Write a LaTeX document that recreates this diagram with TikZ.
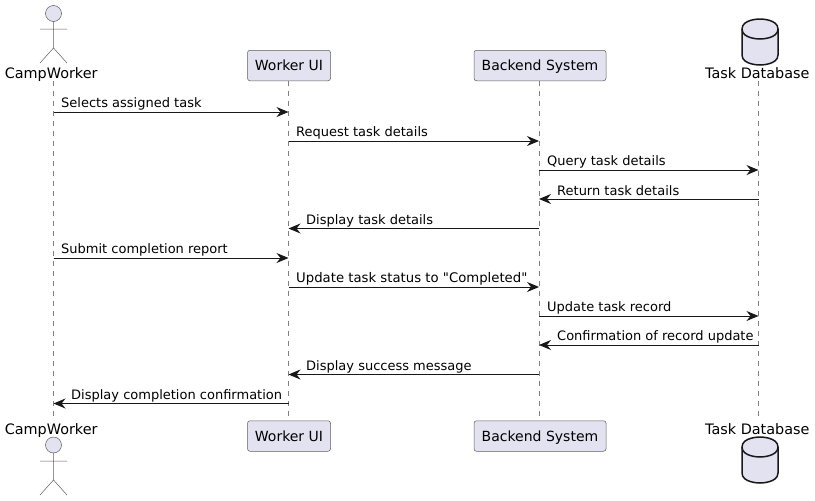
\documentclass[tikz,border=0pt]{standalone}
\usepackage{fontspec}
\newfontfamily\dv{DejaVu Sans}
\usetikzlibrary{arrows.meta}
\definecolor{pfill}{HTML}{E2E2F0}
\definecolor{pline}{HTML}{181818}
\tikzset{
  pbox/.style={draw=pline!70,fill=pfill,line width=0.5pt,rounded corners=2.5pt,minimum height=30.5pt,inner sep=0pt,font=\dv\fontsize{14}{16}\selectfont,text=black,text depth=0pt,anchor=center},
  plabel/.style={inner sep=0pt,font=\dv\fontsize{14.4}{16}\selectfont,text=black,anchor=base},
  mlabel/.style={inner sep=0pt,font=\dv\fontsize{13}{15}\selectfont,text=black,anchor=base west},
  life/.style={draw=pline!55,line width=0.5pt,dash pattern=on 5pt off 5pt},
  msg/.style={draw=pline,line width=1pt,-{Stealth[length=12pt,width=10pt,inset=4pt]}},
  actorline/.style={draw=pline!70,line width=0.5pt},
  actorhead/.style={draw=pline!70,fill=pfill,line width=0.5pt},
  dbshape/.style={draw=pline,line width=1.5pt},
}
\begin{document}
\begin{tikzpicture}[x=1pt,y=-1pt]
\useasboundingbox (0,0) rectangle (815,501);
% lifeline anchors
\coordinate (cwT) at (53.5,81);
\coordinate (cwB) at (53.5,420);
\coordinate (uiL) at (288.5,81);
\coordinate (uiM) at (288.5,420);
\coordinate (beL) at (539,81);
\coordinate (beM) at (539,420);
\coordinate (dbT) at (758.5,81);
\coordinate (dbB) at (758.5,420);
% participants
\node[pbox,minimum width=83pt] (uiT) at (289,65.5) {Worker UI};
\node[pbox,minimum width=83pt] (uiB) at (289,436) {Worker UI};
\node[pbox,minimum width=132pt] (beT) at (540,65.5) {Backend System};
\node[pbox,minimum width=132pt] (beB) at (540,436) {Backend System};
% lifelines
\draw[life] (cwT) -- (cwB);
\draw[life] (uiL) -- (uiM);
\draw[life] (beL) -- (beM);
\draw[life] (dbT) -- (dbB);
% actor top
\draw[actorhead] (53.5,13.5) circle (8);
\draw[actorline] (53.5,21.5) -- (53.5,48) (40,29) -- (67,29) (40,63) -- (53.5,48) -- (67,63);
\node[plabel] (cwlT) at (51.2,78) {CampWorker};
% actor bottom
\draw[actorhead] (53.5,445) circle (8);
\draw[actorline] (53.5,453) -- (53.5,480) (40,461) -- (67,461) (40,495) -- (53.5,480) -- (67,495);
\node[plabel] (cwlB) at (51.2,434) {CampWorker};
% database top
\draw[dbshape,fill=pfill] (742,29) .. controls (742,19) and (760,19) .. (760,19) .. controls (760,19) and (778,19) .. (778,29) -- (778,55) .. controls (778,65) and (760,65) .. (760,65) .. controls (760,65) and (742,65) .. (742,55) -- cycle;
\draw[dbshape] (742,29) .. controls (742,39) and (760,39) .. (760,39) .. controls (760,39) and (778,39) .. (778,29);
\node[plabel] (dblT) at (757.3,78) {Task Database};
% database bottom
\draw[dbshape,fill=pfill] (742,447) .. controls (742,437) and (760,437) .. (760,437) .. controls (760,437) and (778,437) .. (778,447) -- (778,473) .. controls (778,483) and (760,483) .. (760,483) .. controls (760,483) and (742,483) .. (742,473) -- cycle;
\draw[dbshape] (742,447) .. controls (742,457) and (760,457) .. (760,457) .. controls (760,457) and (778,457) .. (778,447);
\node[plabel] (dblB) at (757.3,434) {Task Database};
% rows
\foreach \n/\y in {1/112,2/141,3/170,4/199,5/228.5,6/258,7/287,8/316,9/345,10/374.5,11/403.5}
  \coordinate (r\n) at (0,\y);
% messages
\draw[msg] (cwT |- r1) -- (uiL |- r1);
\node[mlabel] (m1) at (61,107) {Selects assigned task};
\draw[msg] (uiL |- r2) -- (beL |- r2);
\node[mlabel] (m2) at (296,136) {Request task details};
\draw[msg] (beL |- r3) -- (dbT |- r3);
\node[mlabel] (m3) at (547,165) {Query task details};
\draw[msg] (dbT |- r4) -- (beL |- r4);
\node[mlabel] (m4) at (557,195) {Return task details};
\draw[msg] (beL |- r5) -- (uiL |- r5);
\node[mlabel] (m5) at (306,224) {Display task details};
\draw[msg] (cwT |- r6) -- (uiL |- r6);
\node[mlabel] (m6) at (61,253) {Submit completion report};
\draw[msg] (uiL |- r7) -- (beL |- r7);
\node[mlabel,font=\dv\fontsize{13.25}{15}\selectfont] (m7) at (296,282) {Update task status to "Completed"};
\draw[msg] (beL |- r8) -- (dbT |- r8);
\node[mlabel] (m8) at (547,311) {Update task record};
\draw[msg] (dbT |- r9) -- (beL |- r9);
\node[mlabel] (m9) at (557,340) {Confirmation of record update};
\draw[msg] (beL |- r10) -- (uiL |- r10);
\node[mlabel] (m10) at (306,370) {Display success message};
\draw[msg] (uiL |- r11) -- (cwT |- r11);
\node[mlabel] (m11) at (71,399) {Display completion confirmation};
\end{tikzpicture}
\end{document}
